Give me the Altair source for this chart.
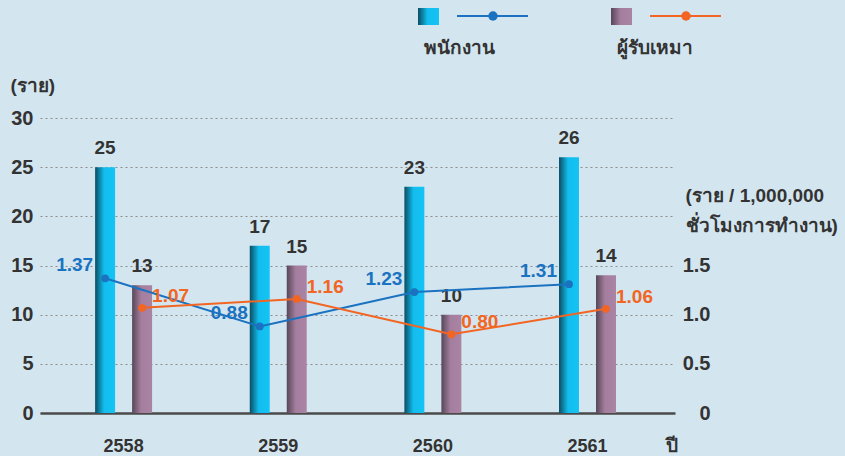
import altair as alt
import pandas as pd

years = ["2558", "2559", "2560", "2561"]
series_names = ["พนักงาน", "ผู้รับเหมา"]
employee_counts = [25, 17, 23, 26]
contractor_counts = [13, 15, 10, 14]
employee_rates = [1.37, 0.88, 1.23, 1.31]
contractor_rates = [1.07, 1.16, 0.80, 1.06]

rows = []
for i, yr in enumerate(years):
    rows.append({"year": yr, "series": series_names[0], "count": employee_counts[i], "rate": employee_rates[i]})
    rows.append({"year": yr, "series": series_names[1], "count": contractor_counts[i], "rate": contractor_rates[i]})
df = pd.DataFrame(rows)

FONT = "Liberation Sans"
TXT = "#333333"
BLUE = "#1a72c0"
ORANGE = "#f26522"

grad_cyan = alt.Gradient(
    gradient="linear",
    stops=[alt.GradientStop(offset=0, color="#0a4d63"),
           alt.GradientStop(offset=0.45, color="#12bdee"),
           alt.GradientStop(offset=1, color="#14c4f4")],
    x1=0, x2=1, y1=0, y2=0)
grad_purple = alt.Gradient(
    gradient="linear",
    stops=[alt.GradientStop(offset=0, color="#574659"),
           alt.GradientStop(offset=0.45, color="#a47e9e"),
           alt.GradientStop(offset=1, color="#ab84a5")],
    x1=0, x2=1, y1=0, y2=0)

x_enc = alt.X("year:N", sort=years,
              scale=alt.Scale(domain=years, paddingInner=0.5215, paddingOuter=0.314, align=0.48),
              axis=alt.Axis(title="ปี", titleAngle=0, titleX=625, titleY=32, titleAlign="left",
                            titleBaseline="middle", titleFont=FONT, titleFontSize=19,
                            titleFontWeight="bold", titleColor=TXT,
                            labelAngle=0, labelFont=FONT, labelFontSize=18, labelFontWeight="bold",
                            labelColor=TXT, labelPadding=24, ticks=False,
                            domainColor="#4a4a4a", domainWidth=2.5, grid=False))
xo_enc = alt.XOffset("series:N", sort=series_names,
                     scale=alt.Scale(domain=series_names, paddingInner=0.46, paddingOuter=0.23))

y_left = alt.Y("count:Q", scale=alt.Scale(domain=[0, 30], nice=False),
               axis=alt.Axis(values=[0, 5, 10, 15, 20, 25, 30], title="(ราย)", titleAngle=0,
                             titleX=-30, titleY=-33, titleAlign="left", titleBaseline="middle",
                             titleFont=FONT, titleFontSize=19, titleFontWeight="bold", titleColor=TXT,
                             labelFont=FONT, labelFontSize=20, labelFontWeight="bold", labelColor=TXT,
                             labelPadding=7, ticks=False, domain=False,
                             grid=True, gridColor="#8c8c8c", gridDash=[2, 3], gridWidth=1))
y_right = alt.Y("rate:Q", scale=alt.Scale(domain=[0, 3], nice=False),
                axis=alt.Axis(values=[0, 0.5, 1.0, 1.5],
                              labelExpr="datum.value == 0 ? '0' : format(datum.value, '.1f')",
                              title=["(ราย / 1,000,000", "ชั่วโมงการทำงาน)"], titleAngle=0,
                              titleX=10, titleY=83, titleAlign="left", titleBaseline="alphabetic",
                              titleLineHeight=30,
                              titleFont=FONT, titleFontSize=19, titleFontWeight="bold", titleColor=TXT,
                              labelFont=FONT, labelFontSize=20, labelFontWeight="bold", labelColor=TXT,
                              labelAlign="right", labelPadding=35, ticks=False, domain=False, grid=False))

base = alt.Chart(df)

bars_emp = base.transform_filter(alt.datum.series == series_names[0]).mark_bar(color=grad_cyan).encode(
    x=x_enc, xOffset=xo_enc, y=y_left)
bars_con = base.transform_filter(alt.datum.series == series_names[1]).mark_bar(color=grad_purple).encode(
    x=x_enc, xOffset=xo_enc, y=y_left)
bar_text = base.mark_text(baseline="bottom", dy=-9, font=FONT, fontSize=19, fontWeight="bold", color=TXT).encode(
    x=x_enc, xOffset=xo_enc, y=y_left, text="count:Q")

# custom legend (symbols above labels)
legend_layers = []
leg_x = [378, 571]
leg_fill = [grad_cyan, grad_purple]
leg_line = [BLUE, ORANGE]
for i, name in enumerate(series_names):
    one = alt.Chart(pd.DataFrame({"series": [name]}))
    lx = leg_x[i]
    legend_layers.append(one.mark_rect(color=leg_fill[i]).encode(
        x=alt.value(lx), x2=alt.value(lx + 21), y=alt.value(-110), y2=alt.value(-93)))
    legend_layers.append(one.mark_rule(color=leg_line[i], strokeWidth=2).encode(
        x=alt.value(lx + 39), x2=alt.value(lx + 110), y=alt.value(-102)))
    legend_layers.append(one.mark_point(filled=True, opacity=1, color=leg_line[i], size=90).encode(
        x=alt.value(lx + 75), y=alt.value(-102)))
    legend_layers.append(one.mark_text(align="left", baseline="middle", font=FONT, fontSize=19,
                                       fontWeight="bold", color=TXT).encode(
        x=alt.value(lx + 6), y=alt.value(-70), text="series:N"))

bars_layer = alt.layer(bars_emp, bars_con, bar_text, *legend_layers)

color_enc = alt.Color("series:N", scale=alt.Scale(domain=series_names, range=[BLUE, ORANGE]), legend=None)
lines = base.mark_line(strokeWidth=2).encode(x=x_enc, xOffset=xo_enc, y=y_right, color=color_enc,
                                             detail="series:N")
points = base.mark_point(filled=True, opacity=1, size=60).encode(x=x_enc, xOffset=xo_enc, y=y_right,
                                                                 color=color_enc)
text_emp = base.transform_filter(alt.datum.series == series_names[0]).mark_text(
    align="right", baseline="middle", dx=-12, dy=-13, font=FONT, fontSize=19, fontWeight="bold", color=BLUE
).encode(x=x_enc, xOffset=xo_enc, y=y_right, text=alt.Text("rate:Q", format=".2f"))
text_con = base.transform_filter(alt.datum.series == series_names[1]).mark_text(
    align="left", baseline="middle", dx=10, dy=-12, font=FONT, fontSize=19, fontWeight="bold", color=ORANGE
).encode(x=x_enc, xOffset=xo_enc, y=y_right, text=alt.Text("rate:Q", format=".2f"))

lines_layer = alt.layer(lines, points, text_emp, text_con)

chart = alt.layer(bars_layer, lines_layer).resolve_scale(y="independent").properties(
    width=635, height=295,
    autosize=alt.AutoSizeParams(type="none"),
    padding={"left": 40, "top": 118, "right": 170, "bottom": 43},
    background="#d3e6f0",
).configure_view(stroke=None)

chart.save("out.html", embed_options={"renderer": "svg", "actions": False})
